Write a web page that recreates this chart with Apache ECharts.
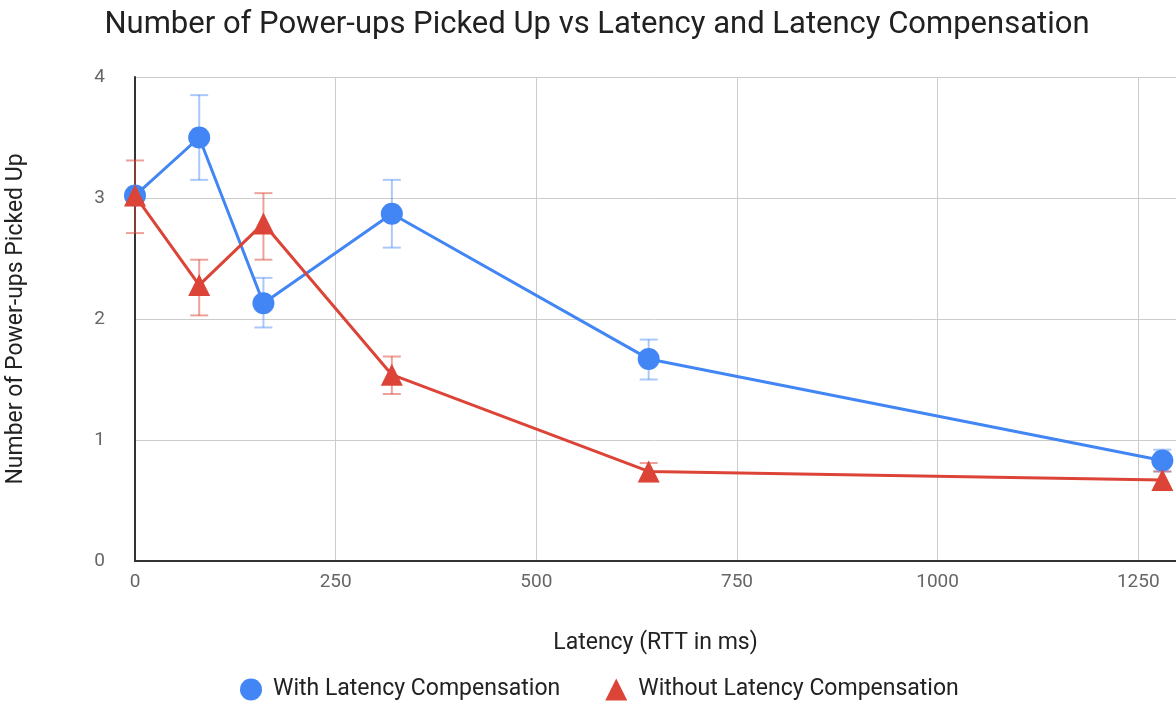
<!DOCTYPE html>
<html>
<head>
<meta charset="utf-8">
<script src="https://cdn.jsdelivr.net/npm/echarts@6/dist/echarts.min.js"></script>
<style>
  html, body { margin: 0; padding: 0; background: #fff; }
  #chart { width: 1176px; height: 706px; }
</style>
</head>
<body>
<div id="chart"></div>
<script>
// latency values (RTT in ms)
const latency = [0, 80, 160, 320, 640, 1280];

// with latency compensation
const withComp = [3.02, 3.50, 2.13, 2.87, 1.67, 0.83];
const withLow = [3.02, 3.15, 1.93, 2.59, 1.50, 0.74];
const withHigh = [3.02, 3.85, 2.34, 3.15, 1.83, 0.92];

// without latency compensation
const withoutComp = [3.02, 2.28, 2.79, 1.54, 0.74, 0.67];
const withoutLow = [2.71, 2.03, 2.49, 1.38, 0.66, 0.60];
const withoutHigh = [3.31, 2.49, 3.04, 1.69, 0.81, 0.74];

const blue = '#4285f4';
const red = '#db4437';
const font = 'Roboto, "Noto Sans", sans-serif';

function errorSeries(low, high, color) {
  return {
    type: 'custom',
    z: 1,
    silent: true,
    data: latency.map((x, i) => [x, low[i], high[i]]),
    renderItem: function (params, api) {
      const lo = api.coord([api.value(0), api.value(1)]);
      const hi = api.coord([api.value(0), api.value(2)]);
      if (hi[1] === lo[1]) return null;
      const w = 9;
      const style = { stroke: color, lineWidth: 2, fill: null };
      return {
        type: 'group',
        children: [
          { type: 'line', shape: { x1: lo[0], y1: lo[1], x2: hi[0], y2: hi[1] }, style: style },
          { type: 'line', shape: { x1: lo[0] - w, y1: lo[1], x2: lo[0] + w, y2: lo[1] }, style: style },
          { type: 'line', shape: { x1: hi[0] - w, y1: hi[1], x2: hi[0] + w, y2: hi[1] }, style: style }
        ]
      };
    }
  };
}

const chart = echarts.init(document.getElementById('chart'));
chart.setOption({
  animation: false,
  title: {
    text: 'Number of Power-ups Picked Up vs Latency and Latency Compensation',
    left: 592,
    textAlign: 'center',
    top: 5,
    textStyle: { fontFamily: font, fontSize: 31, fontWeight: 'normal', color: '#212121' }
  },
  legend: {
    bottom: 0,
    left: 235,
    itemGap: 45,
    itemWidth: 22,
    itemHeight: 22,
    textStyle: { fontFamily: font, fontSize: 23, color: '#222', padding: [0, 0, 0, 6] },
    data: [
      { name: 'With Latency Compensation', icon: 'circle' },
      { name: 'Without Latency Compensation', icon: 'triangle' }
    ]
  },
  grid: { left: 135, right: 0, top: 77, bottom: 145, outerBoundsMode: 'none' },
  xAxis: {
    type: 'value',
    min: 0,
    max: 1297,
    interval: 250,
    name: 'Latency (RTT in ms)',
    nameLocation: 'middle',
    nameGap: 71,
    nameTextStyle: { fontFamily: font, fontSize: 23, color: '#222' },
    axisLine: { show: true, onZero: false, lineStyle: { color: '#333', width: 2 } },
    axisTick: { show: false },
    axisLabel: {
      margin: 12,
      fontFamily: font, fontSize: 19, color: '#666',
      formatter: v => (v % 250 === 0 ? String(v) : '')
    },
    splitLine: { show: true, lineStyle: { color: '#ccc', width: 1 } }
  },
  yAxis: {
    type: 'value',
    min: 0,
    max: 4,
    interval: 1,
    name: 'Number of Power-ups Picked Up',
    nameLocation: 'middle',
    nameGap: 107,
    nameTextStyle: { fontFamily: font, fontSize: 23, color: '#222' },
    axisLine: { show: true, lineStyle: { color: '#333', width: 2 } },
    axisTick: { show: false },
    axisLabel: { margin: 30, fontFamily: font, fontSize: 19, color: '#666' },
    splitLine: { show: true, lineStyle: { color: '#ccc', width: 1 } }
  },
  series: [
    errorSeries(withLow, withHigh, 'rgba(66,133,244,0.45)'),
    errorSeries(withoutLow, withoutHigh, 'rgba(219,68,55,0.5)'),
    {
      name: 'With Latency Compensation',
      type: 'line',
      z: 3,
      data: latency.map((x, i) => [x, withComp[i]]),
      symbol: 'circle',
      symbolSize: 22,
      color: blue,
      lineStyle: { color: blue, width: 3 },
      itemStyle: { color: blue }
    },
    {
      name: 'Without Latency Compensation',
      type: 'line',
      z: 4,
      data: latency.map((x, i) => [x, withoutComp[i]]),
      symbol: 'triangle',
      symbolSize: 22,
      color: red,
      lineStyle: { color: red, width: 3 },
      itemStyle: { color: red }
    }
  ]
});
</script>
</body>
</html>
